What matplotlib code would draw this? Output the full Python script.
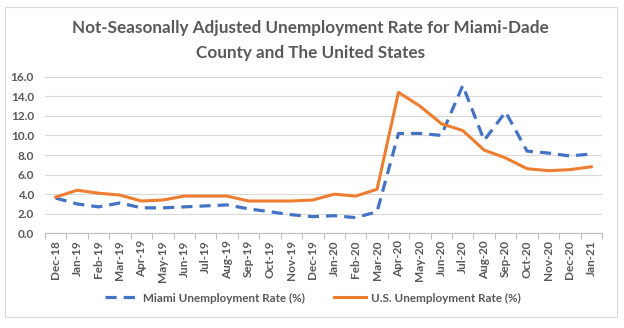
import matplotlib.pyplot as plt
import matplotlib.ticker as ticker
from matplotlib.patches import Rectangle

months = ['Dec-18', 'Jan-19', 'Feb-19', 'Mar-19', 'Apr-19', 'May-19', 'Jun-19',
          'Jul-19', 'Aug-19', 'Sep-19', 'Oct-19', 'Nov-19', 'Dec-19', 'Jan-20',
          'Feb-20', 'Mar-20', 'Apr-20', 'May-20', 'Jun-20', 'Jul-20', 'Aug-20',
          'Sep-20', 'Oct-20', 'Nov-20', 'Dec-20', 'Jan-21']
miami = [3.6, 3.0, 2.7, 3.1, 2.6, 2.6, 2.7, 2.8, 2.9, 2.5, 2.2, 1.9, 1.7, 1.8,
         1.6, 2.2, 10.2, 10.2, 10.0, 15.1, 9.5, 12.4, 8.4, 8.2, 7.9, 8.1]
us = [3.7, 4.4, 4.1, 3.9, 3.3, 3.4, 3.8, 3.8, 3.8, 3.3, 3.3, 3.3, 3.4, 4.0,
      3.8, 4.5, 14.4, 13.0, 11.2, 10.5, 8.5, 7.7, 6.6, 6.4, 6.5, 6.8]

plt.rcParams['font.family'] = ['Lato', 'DejaVu Sans']
grey = '#595959'

fig = plt.figure(figsize=(6.24, 3.28), dpi=100)
ax = fig.add_axes([45 / 624, 1 - 233.3 / 328, 557 / 624, 156.6 / 328])

x = list(range(len(months)))
ax.plot(x, miami, color='#4472C4', linewidth=2.3, linestyle=(0, (3.5, 2.2)),
        label='Miami Unemployment Rate (%)', zorder=3)
ax.plot(x, us, color='#ED7D31', linewidth=2.2, label='U.S. Unemployment Rate (%)',
        zorder=4)

ax.set_xlim(-0.5, len(months) - 0.5)
ax.set_ylim(0, 16)
ax.yaxis.set_major_locator(ticker.MultipleLocator(2))
ax.yaxis.set_major_formatter(ticker.FormatStrFormatter('%.1f'))
ax.grid(axis='y', color='#d9d9d9', linewidth=0.8)
ax.set_axisbelow(True)

ax.set_xticks(x)
ax.set_xticklabels(months, rotation=90, fontsize=8.5, color=grey, fontweight='bold')
ax.set_xticks([i - 0.5 for i in range(len(months) + 1)], minor=True)
ax.tick_params(axis='x', which='major', length=0, pad=5)
ax.tick_params(axis='x', which='minor', length=4, color='#bfbfbf', width=0.8)
ax.tick_params(axis='y', length=0, labelsize=8.5, labelcolor=grey, pad=8)
for lbl in ax.get_yticklabels():
    lbl.set_fontweight('bold')

for side in ['top', 'right', 'left']:
    ax.spines[side].set_visible(False)
ax.spines['bottom'].set_color('#bfbfbf')
ax.spines['bottom'].set_linewidth(0.8)

fig.text(310.5 / 624, 1 - 28 / 328, 'Not-Seasonally Adjusted Unemployment Rate for Miami-Dade',
         ha='center', va='center', fontsize=12.3, fontweight='bold', color=grey)
fig.text(310.5 / 624, 1 - 53 / 328, 'County and The United States',
         ha='center', va='center', fontsize=12.3, fontweight='bold', color=grey)

leg = fig.legend(loc='center', bbox_to_anchor=(313 / 624, 1 - 298 / 328), ncol=2,
                 frameon=False, fontsize=8.4, handlelength=2.8, columnspacing=2.5,
                 handletextpad=0.43, labelcolor=grey)
for t in leg.get_texts():
    t.set_fontweight('bold')

fig.patches.append(Rectangle((5 / 624, 1 - 317 / 328), 612 / 624, 310 / 328,
                             transform=fig.transFigure, fill=False,
                             edgecolor='#d9d9d9', linewidth=0.8))

fig.savefig('out.png', dpi=100)
